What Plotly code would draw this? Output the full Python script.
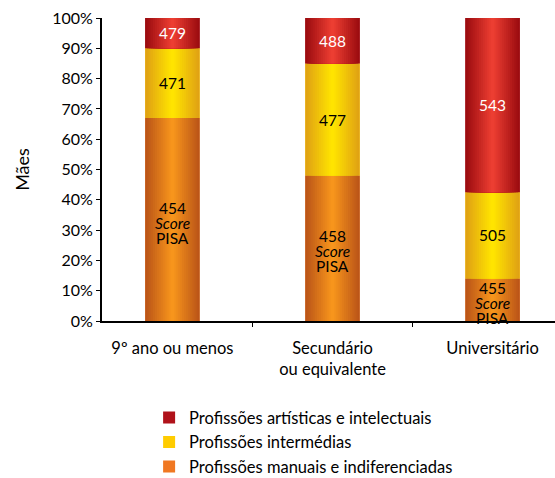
import plotly.graph_objects as go

# ---- data ----
categories = ["9º ano ou menos", "Secundário<br>ou equivalente", "Universitário"]
manual_pct = [67, 48, 14]
intermed_pct = [23, 37, 28.5]
artistic_pct = [10, 15, 57.5]
manual_score = [454, 458, 455]
intermed_score = [471, 477, 505]
artistic_score = [479, 488, 543]
series_names = ["Profissões manuais e indiferenciadas",
                "Profissões intermédias",
                "Profissões artísticas e intelectuais"]
y_ticks = [0, 10, 20, 30, 40, 50, 60, 70, 80, 90, 100]
y_tick_labels = ["0%", "10%", "20%", "30%", "40%", "50%", "60%", "70%", "80%", "90%", "100%"]

# ---- styling ----
FONT = "Lato"
FS = 15.5
BAR_W = 0.34
N_LAYERS = 14
styles = [
    dict(edge=(0xBB, 0x55, 0x18), center=(0xF7, 0x95, 0x1C), legend="#F07822", text="#000000"),
    dict(edge=(0xE0, 0xA2, 0x14), center=(0xFF, 0xE4, 0x00), legend="#FFCC00", text="#000000"),
    dict(edge=(0x9C, 0x0C, 0x10), center=(0xEC, 0x3E, 0x32), legend="#B0121A", text="#FFFFFF"),
]

pcts = [manual_pct, intermed_pct, artistic_pct]
scores = [manual_score, intermed_score, artistic_score]

fig = go.Figure()

bases_all = []
running = [0] * len(categories)
for s in range(3):
    bases_all.append(list(running))
    running = [r + v for r, v in zip(running, pcts[s])]

# legend-carrying base bars
for s in range(3):
    fig.add_trace(go.Bar(
        x=categories, y=pcts[s], base=bases_all[s], width=BAR_W,
        name=series_names[s], legendrank=3 - s, legendgroup="g%d" % s,
        marker=dict(color=styles[s]["legend"], line=dict(width=0)),
        hoverinfo="skip",
    ))

# gradient layers (nested bars, edge -> center)
def mix(a, b, t):
    return "rgb(%d,%d,%d)" % tuple(round(a[k] + (b[k] - a[k]) * t) for k in range(3))

for s in range(3):
    st = styles[s]
    for i in range(N_LAYERS):
        t = i / (N_LAYERS - 1)
        fig.add_trace(go.Bar(
            x=categories, y=pcts[s], base=bases_all[s],
            width=BAR_W * (N_LAYERS - i) / N_LAYERS,
            marker=dict(color=mix(st["edge"], st["center"], t), line=dict(width=0)),
            showlegend=False, hoverinfo="skip",
        ))

# labels
annotations = []
for s in range(3):
    for c, cat in enumerate(categories):
        mid = bases_all[s][c] + pcts[s][c] / 2
        if s == 0:
            lines = [(str(scores[s][c]), 15), ("<i>Score</i>", 0), ("PISA", -15)]
            for txt, sh in lines:
                annotations.append(dict(
                    x=cat, y=mid, text=txt, showarrow=False, yshift=sh - 3,
                    font=dict(family=FONT, size=FS, color=styles[s]["text"])))
        else:
            annotations.append(dict(
                x=cat, y=mid, text=str(scores[s][c]), showarrow=False,
                font=dict(family=FONT, size=FS, color=styles[s]["text"])))

fig.update_layout(
    width=555, height=478,
    margin=dict(l=102, r=0, t=18, b=157, autoexpand=False),
    paper_bgcolor="white", plot_bgcolor="white",
    barmode="overlay",
    font=dict(family=FONT, size=FS, color="#000000"),
    annotations=annotations,
    legend=dict(x=0.104, y=-0.262, xanchor="left", yanchor="top", tracegroupgap=0,
                font=dict(family=FONT, size=16.5), bgcolor="rgba(0,0,0,0)"),
    xaxis=dict(type="category", range=[-0.44, 2.39], tickson="boundaries",
               ticks="outside", ticklen=4, tickcolor="black",
               showline=True, linecolor="black", linewidth=2,
               showgrid=False, ticklabelstandoff=11,
               tickfont=dict(family=FONT, size=16.5)),
    yaxis=dict(range=[0, 100], tickmode="array", tickvals=y_ticks, ticktext=y_tick_labels,
               ticks="outside", ticklen=4, tickcolor="black",
               showline=True, linecolor="black", linewidth=2,
               showgrid=False, zeroline=False,
               tickfont=dict(family=FONT, size=16),
               title=dict(text="Mães", standoff=18, font=dict(family=FONT, size=18))),
)

fig.write_html("out.html",
               config={"displayModeBar": False},
               post_script="document.body.style.margin='0';document.body.style.overflow='hidden';")
